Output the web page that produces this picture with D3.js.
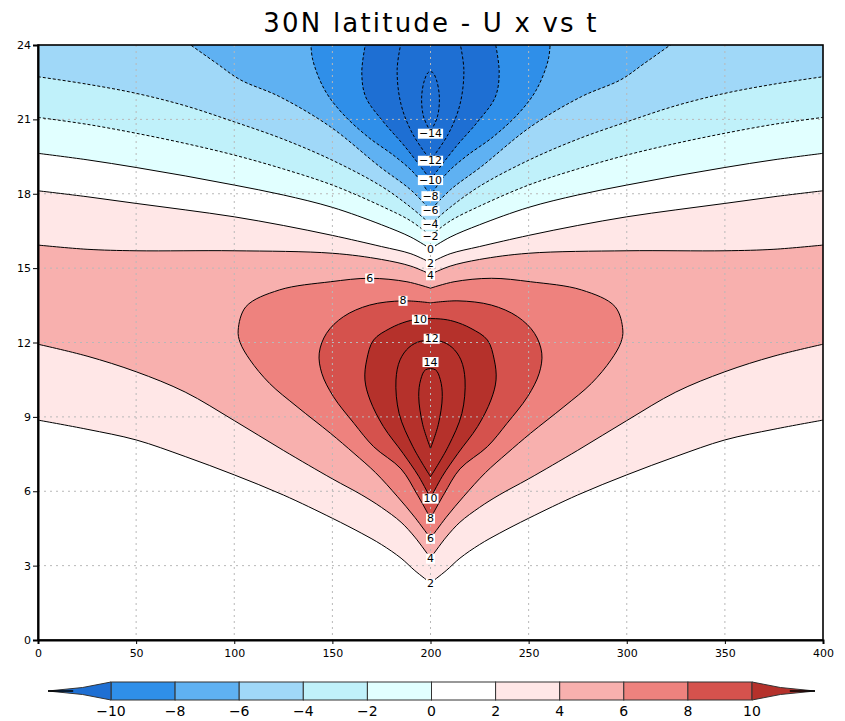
<!DOCTYPE html>
<html>
<head>
<meta charset="utf-8">
<script src="https://cdnjs.cloudflare.com/ajax/libs/d3/7.8.5/d3.min.js"></script>
<style>
  body { margin: 0; background: #fff; }
  svg text { font-family: "DejaVu Sans", "Liberation Sans", sans-serif; }
</style>
</head>
<body>
<div id="chart"></div>
<script>
"use strict";

// == DATA ==
var title = "30N latitude - U x vs t";
var xTicks = [0, 50, 100, 150, 200, 250, 300, 350, 400];
var tTicks = [0, 3, 6, 9, 12, 15, 18, 21, 24];
var coastX = 200;

// colour bands: below -10, -10..-8, ... , 8..10, above 10
var bandEdges = [-10, -8, -6, -4, -2, 0, 2, 4, 6, 8, 10];
var bandColors = ["#1e6fd3", "#2f8fe9", "#5fb1f2", "#a0d8f8", "#c0f1fa", "#e1ffff",
                  "#ffffff", "#ffe7e7", "#f8b0ae", "#ee827e", "#d5524d", "#b5312b"];

// contour lines, [x, t] points
var lower2 = [[0,8.87],[25,8.5],[50,8.07],[75,7.4],[100,6.66],[125,5.85],[150,4.91],[165,4.3],[175,3.85],[185,3.3],[192,2.8],[200,2.3],
              [208,2.8],[215,3.3],[225,3.85],[235,4.3],[250,4.91],[275,5.85],[300,6.66],[325,7.4],[350,8.07],[375,8.5],[400,8.87]];
var lower4 = [[0,11.93],[25,11.45],[50,10.82],[75,10.0],[100,8.85],[125,7.65],[150,6.5],[165,5.85],[175,5.35],[185,4.75],[192,4.15],[200,3.3],
              [208,4.15],[215,4.75],[225,5.35],[235,5.85],[250,6.5],[275,7.65],[300,8.85],[325,10.0],[350,10.82],[375,11.45],[400,11.93]];
var upper4 = [[0,15.93],[25,15.76],[50,15.7],[100,15.7],[150,15.6],[175,15.35],[190,15.08],[200,14.75],
              [210,15.08],[225,15.35],[250,15.6],[300,15.7],[350,15.7],[375,15.76],[400,15.93]];
var upper2 = [[0,18.12],[25,17.88],[50,17.61],[75,17.35],[100,17.07],[125,16.72],[150,16.32],[175,15.87],[190,15.58],[200,15.22],
              [210,15.58],[225,15.87],[250,16.32],[275,16.72],[300,17.07],[325,17.35],[350,17.61],[375,17.88],[400,18.12]];
var zero0 = [[0,19.63],[25,19.37],[50,19.06],[75,18.72],[100,18.35],[125,17.95],[150,17.45],[175,16.75],[190,16.25],[200,15.78],
             [210,16.25],[225,16.75],[250,17.45],[275,17.95],[300,18.35],[325,18.72],[350,19.06],[375,19.37],[400,19.63]];
var neg2 = [[0,21.08],[25,20.8],[50,20.44],[75,20.03],[100,19.56],[125,19.0],[150,18.35],[175,17.5],[190,16.9],[200,16.3],
            [210,16.9],[225,17.5],[250,18.35],[275,19.0],[300,19.56],[325,20.03],[350,20.44],[375,20.8],[400,21.08]];
var neg4 = [[0,22.72],[25,22.42],[50,22.05],[75,21.55],[100,20.9],[125,20.2],[150,19.35],[175,18.3],[190,17.45],[200,16.77],
            [210,17.45],[225,18.3],[250,19.35],[275,20.2],[300,20.9],[325,21.55],[350,22.05],[375,22.42],[400,22.72]];
var neg6 = [[76,24.1],[91,23.26],[103,22.6],[123,21.92],[149,20.7],[174,19.1],[190,18.15],[200,17.33],
            [210,18.15],[226,19.1],[251,20.7],[277,21.92],[297,22.6],[309,23.26],[324,24.1]];
var neg8 = [[139,24.1],[140,23.4],[146,22.2],[155,21.25],[168,20.3],[182,19.5],[192,18.8],[200,17.92],
            [208,18.8],[218,19.5],[232,20.3],[245,21.25],[254,22.2],[260,23.4],[261,24.1]];
var neg10 = [[167,24.1],[165,22.9],[167,21.9],[176,20.9],[187,19.9],[200,18.57],
             [213,19.9],[224,20.9],[233,21.9],[235,22.9],[233,24.1]];
var neg12 = [[185,24.1],[183,23.0],[185,21.6],[191,20.4],[200,19.35],
             [209,20.4],[215,21.6],[217,23.0],[215,24.1]];
var neg14 = [[200,20.5],[196.5,21.1],[195.5,21.9],[197,22.6],[199,22.9],[201,22.9],[203,22.6],[204.5,21.9],[203.5,21.1],[200,20.5]];
var pos6 = [[200,4.1],[192,4.95],[183,5.8],[172,6.75],[161,7.53],[149,8.34],[132,9.41],[118,10.35],[108,11.3],[103,12.0],[102,12.5],
            [106,13.45],[123,14.12],[149,14.45],[169,14.59],[188,14.45],[200,14.19],[212,14.45],[231,14.59],[251,14.45],[277,14.12],
            [294,13.45],[298,12.5],[297,12.0],[292,11.3],[282,10.35],[268,9.41],[251,8.34],[239,7.53],[228,6.75],[217,5.8],[208,4.95],[200,4.1]];
var pos8 = [[200,4.91],[193,5.9],[185,6.9],[171,7.8],[161,8.74],[150.5,9.82],[144.6,10.76],[143.3,11.57],[147,12.37],[155.6,13.04],
            [169,13.51],[186,13.68],[200,13.6],[214,13.68],[231,13.51],[244.4,13.04],[253,12.37],[256.7,11.57],[255.4,10.76],
            [249.5,9.82],[239,8.74],[229,7.8],[215,6.9],[207,5.9],[200,4.91]];
var pos10 = [[200,5.72],[194,6.6],[186,7.53],[176,8.61],[169.2,9.68],[166.6,10.49],[167.5,11.3],[171,12.1],[179.4,12.57],[188,12.85],
             [195,12.95],[205,12.95],[212,12.85],[220.6,12.57],[229,12.1],[232.5,11.3],[233.4,10.49],[230.8,9.68],[224,8.61],
             [214,7.53],[206,6.6],[200,5.72]];
var pos12 = [[200,6.59],[191,7.8],[184,9.14],[182.4,10.49],[184.5,11.3],[189,11.8],[195,12.05],[205,12.05],[211,11.8],[215.5,11.3],
             [217.6,10.49],[216,9.14],[209,7.8],[200,6.59]];
var pos14 = [[200,7.73],[196,8.7],[194,9.82],[195,10.5],[197.5,10.9],[202.5,10.9],[205,10.5],[206,9.82],[204,8.7],[200,7.73]];

// contour labels: value, x, t
var labelValues = [-14, -12, -10, -8, -6, -4, -2, 0, 2, 4, 6, 8, 10, 12, 14, 10, 8, 6, 4, 2];
var labelX = [200, 200, 200, 200, 200, 200, 200, 200, 200, 200, 169, 186, 194.6, 200.6, 200, 200, 200, 200, 200, 200];
var labelT = [20.44, 19.35, 18.57, 17.92, 17.33, 16.77, 16.3, 15.78, 15.22, 14.73, 14.6, 13.7, 12.94, 12.17, 11.23,
              5.72, 4.91, 4.1, 3.3, 2.29];

// == BOILERPLATE ==
var width = 845, height = 721;
var plot = { left: 38, right: 823, top: 45, bottom: 640 };

var svg = d3.select("#chart").append("svg")
  .attr("width", width).attr("height", height);

var x = d3.scaleLinear().domain([0, 400]).range([plot.left, plot.right]);
var y = d3.scaleLinear().domain([0, 24]).range([plot.bottom, plot.top]);

function band(lo) { return bandColors[bandEdges.indexOf(lo) + 1]; }

var curve = d3.line()
  .x(function(d) { return x(d[0]); })
  .y(function(d) { return y(d[1]); })
  .curve(d3.curveCatmullRom.alpha(0.5));

// split at the coast so the cusp stays sharp
function smooth(pts) {
  var parts = [], cur = [];
  pts.forEach(function(p, i) {
    cur.push(p);
    if (p[0] === coastX && i > 0 && i < pts.length - 1) { parts.push(cur); cur = [p]; }
  });
  parts.push(cur);
  return parts.map(function(s, i) {
    var d = curve(s);
    return i === 0 ? d : "L" + d.slice(1);
  }).join("");
}
function toTop(pts) {
  return smooth(pts) + "L" + x(400) + "," + y(24.5) + "L" + x(0) + "," + y(24.5) + "Z";
}
function between(a, b) {
  return smooth(a) + "L" + smooth(b.slice().reverse()).slice(1) + "Z";
}

svg.append("clipPath").attr("id", "clip").append("rect")
  .attr("x", plot.left).attr("y", plot.top)
  .attr("width", plot.right - plot.left).attr("height", plot.bottom - plot.top);

var g = svg.append("g").attr("clip-path", "url(#clip)");

// fills
g.append("rect").attr("x", plot.left).attr("y", plot.top)
  .attr("width", plot.right - plot.left).attr("height", plot.bottom - plot.top)
  .attr("fill", band(0));

var fills = [
  [toTop(zero0), band(-2)],
  [toTop(neg2), band(-4)],
  [toTop(neg4), band(-6)],
  [smooth(neg6) + "Z", band(-8)],
  [smooth(neg8) + "Z", band(-10)],
  [smooth(neg10) + "Z", bandColors[0]],
  [between(lower2, upper2), band(2)],
  [between(lower4, upper4), band(4)],
  [smooth(pos6) + "Z", band(6)],
  [smooth(pos8) + "Z", band(8)],
  [smooth(pos10) + "Z", bandColors[11]]
];
g.selectAll("path.fill").data(fills).enter().append("path")
  .attr("class", "fill")
  .attr("d", function(d) { return d[0]; })
  .attr("fill", function(d) { return d[1]; })
  .attr("stroke", "none");

// dotted grid
g.selectAll("line.gx").data(xTicks.slice(1, -1)).enter().append("line")
  .attr("x1", function(d) { return x(d); }).attr("x2", function(d) { return x(d); })
  .attr("y1", plot.top).attr("y2", plot.bottom)
  .attr("stroke", "#b8b8b8").attr("stroke-width", 1).attr("stroke-dasharray", "2,4");
g.selectAll("line.gy").data(tTicks.slice(1, -1)).enter().append("line")
  .attr("y1", function(d) { return y(d); }).attr("y2", function(d) { return y(d); })
  .attr("x1", plot.left).attr("x2", plot.right)
  .attr("stroke", "#b8b8b8").attr("stroke-width", 1).attr("stroke-dasharray", "2,4");

// contour lines
var lines = [
  [lower2, 2, false], [lower4, 4, false], [upper4, 4, false], [upper2, 2, false], [zero0, 0, false],
  [neg2, -2, false], [neg4, -4, false], [neg6, -6, false], [neg8, -8, false], [neg10, -10, false],
  [neg12, -12, false], [neg14, -14, true],
  [pos6, 6, true], [pos8, 8, true], [pos10, 10, true], [pos12, 12, true], [pos14, 14, true]
];
g.selectAll("path.cline").data(lines).enter().append("path")
  .attr("class", "cline")
  .attr("d", function(d) { return smooth(d[0]) + (d[2] ? "Z" : ""); })
  .attr("fill", "none")
  .attr("stroke", "#000")
  .attr("stroke-width", 1)
  .attr("stroke-dasharray", function(d) { return d[1] < 0 ? "3,2" : null; });

// contour labels
var lab = g.selectAll("g.clab").data(labelValues).enter().append("g")
  .attr("class", "clab")
  .attr("transform", function(d, i) { return "translate(" + x(labelX[i]) + "," + y(labelT[i]) + ")"; });
lab.append("text")
  .attr("text-anchor", "middle").attr("dy", "0.36em")
  .attr("font-size", 11)
  .text(function(d) { return d < 0 ? "\u2212" + Math.abs(d) : d; })
  .each(function() {
    var bb = this.getBBox();
    d3.select(this.parentNode).insert("rect", "text")
      .attr("x", bb.x - 1).attr("y", bb.y + 1.5)
      .attr("width", bb.width + 2).attr("height", bb.height - 3)
      .attr("fill", "#fff");
  });

// axes
var yAxis = d3.axisLeft(y).tickValues(tTicks).tickSize(5).tickPadding(2);
var xAxis = d3.axisBottom(x).tickValues(xTicks).tickSize(4).tickPadding(5);
var ya = svg.append("g").attr("transform", "translate(" + plot.left + ",0)").call(yAxis);
var xa = svg.append("g").attr("transform", "translate(0," + plot.bottom + ")").call(xAxis);
[ya, xa].forEach(function(a) {
  a.selectAll("text").attr("font-size", 11).attr("fill", "#000");
  a.selectAll("line").attr("stroke", "#000");
  a.select(".domain").attr("stroke", "#000").attr("stroke-width", 2);
});

// frame
svg.append("rect").attr("x", plot.left).attr("y", plot.top)
  .attr("width", plot.right - plot.left).attr("height", plot.bottom - plot.top)
  .attr("fill", "none").attr("stroke", "#000").attr("stroke-width", 1.6);

// title
svg.append("text").attr("x", 431).attr("y", 32)
  .attr("text-anchor", "middle").attr("font-size", 26)
  .attr("letter-spacing", 2.2)
  .text(title);

// colour bar
var cb = d3.scaleLinear().domain([-10, 10]).range([111, 752]);
var cbTop = 682, cbBot = 700, cbMid = 691;
var cbg = svg.append("g");
cbg.selectAll("rect").data(bandEdges.slice(0, -1)).enter().append("rect")
  .attr("x", function(d) { return cb(d); })
  .attr("y", cbTop)
  .attr("width", function(d, i) { return cb(bandEdges[i + 1]) - cb(d); })
  .attr("height", cbBot - cbTop)
  .attr("fill", function(d) { return band(d); })
  .attr("stroke", "#333").attr("stroke-width", 1);
var tipLen = 63;
var arrows = [[-10, -1, bandColors[0]], [10, 1, bandColors[11]]];
arrows.forEach(function(a) {
  var x0 = cb(a[0]), s = a[1];
  var pts = [[x0, cbTop], [x0 + s * tipLen * 0.45, cbMid - 3.5], [x0 + s * tipLen, cbMid],
             [x0 + s * tipLen * 0.45, cbMid + 3.5], [x0, cbBot]];
  cbg.append("path").attr("d", d3.line()(pts) + "Z")
    .attr("fill", a[2]).attr("stroke", "#333").attr("stroke-width", 1);
  cbg.append("line")
    .attr("x1", x0 + s * tipLen * 0.6).attr("x2", x0 + s * tipLen)
    .attr("y1", cbMid).attr("y2", cbMid)
    .attr("stroke", "#000").attr("stroke-width", 1.5);
});
cbg.selectAll("text").data(bandEdges).enter().append("text")
  .attr("x", function(d) { return cb(d); })
  .attr("y", 716)
  .attr("text-anchor", "middle").attr("font-size", 14)
  .text(function(d) { return d < 0 ? "\u2212" + Math.abs(d) : d; });
</script>
</body>
</html>
